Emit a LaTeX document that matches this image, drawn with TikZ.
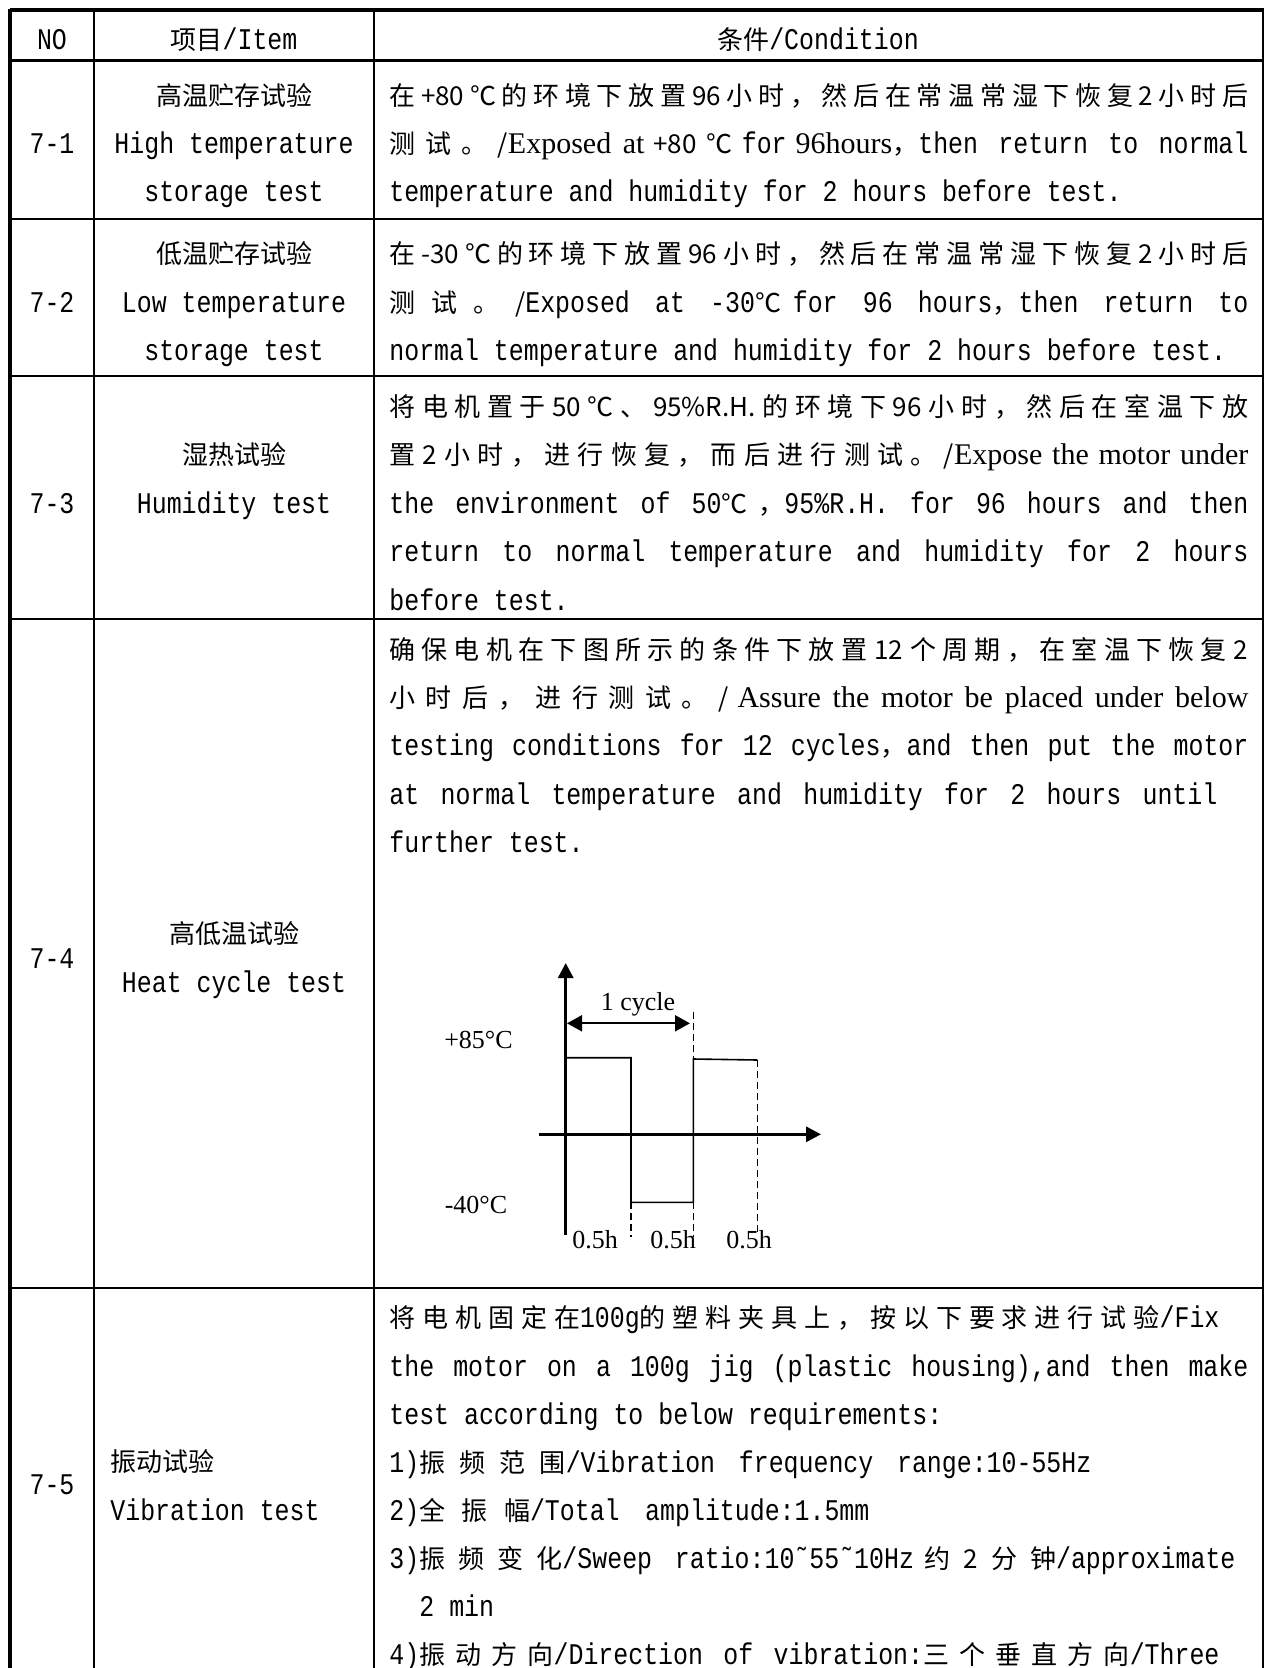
\documentclass[tikz,border=0pt]{standalone}
\usepackage{fontspec}
\usetikzlibrary{arrows.meta}

\setmainfont{Noto Sans CJK SC}
\newfontfamily\enfont[FakeStretch=0.83]{Liberation Mono}
\newfontfamily\tmfont{Liberation Serif}

% stretchable glue round the chinese characters (for justified lines)
\newskip\cjkskip
\cjkskip=0pt plus 3pt
\XeTeXinterchartokenstate=1
\newXeTeXintercharclass\cjkcls
\count255="3000
\loop
  \XeTeXcharclass\count255=\cjkcls
  \advance\count255 by 1
\ifnum\count255<"A000 \repeat
\count255="FF00
\loop
  \XeTeXcharclass\count255=\cjkcls
  \advance\count255 by 1
\ifnum\count255<"FFF0 \repeat
\XeTeXcharclass"2103=\cjkcls
\XeTeXinterchartoks\cjkcls\cjkcls={\hskip\cjkskip\relax}
\XeTeXinterchartoks 0 \cjkcls={\hskip\cjkskip\relax}
\XeTeXinterchartoks\cjkcls 0 ={\hskip\cjkskip\relax}

% latin text: narrow mono / times
\newcommand\en[1]{{\enfont\fontsize{15}{15}\selectfont\fontdimen3\font=2.5pt\fontdimen4\font=0.6pt #1}}
\newcommand\tm[1]{{\tmfont\fontsize{15}{15}\selectfont #1}}
% justified line of the condition column
\newcommand\jl[2][429.5pt]{\makebox[#1][s]{\cjkskip=1.8pt plus 3pt\relax #2}}

\begin{document}
\begin{tikzpicture}[x=0.5pt,y=-0.5pt,
    every node/.style={font=\fontsize{13}{13}\selectfont},
    cell/.style={inner sep=0pt,text height=10pt,text depth=0pt},
    txt/.style={cell,anchor=west},
    axis/.style={line width=1.5pt,-{Triangle[length=7.5pt,width=7.5pt]}},
    wave/.style={line width=0.8pt},
    guide/.style={line width=0.8pt,dash pattern=on 3.5pt off 2pt},
    lbl/.style={inner sep=0pt,font=\tmfont\fontsize{13}{13}\selectfont}]
                \useasboundingbox (0,0) rectangle (1263,1668);

                % table frame
                \draw[line width=2pt] (9.5,10) -- (1264,10);
                \draw[line width=2pt] (9.5,9) -- (9.5,1668);
                \draw[line width=2pt] (1264,9) -- (1264,1668);
                \draw[line width=1.5pt] (9.5,61) -- (1264,61);
                \draw[line width=1pt] (9.5,219) -- (1264,219);
                \draw[line width=1pt] (9.5,376) -- (1264,376);
                \draw[line width=1pt] (9.5,619) -- (1264,619);
                \draw[line width=1pt] (9.5,1288) -- (1264,1288);
                \draw[line width=1pt] (94,10) -- (94,1668);
                \draw[line width=1pt] (374,10) -- (374,1668);

                % header
                \node[cell] (hno) at (52,39.5) {\en{NO}};
                \node[cell] (hitem) at (234,39.5) {项目\en{/Item}};
                \node[cell] (hcond) at (818,39.5) {条件\en{/Condition}};

                % 7-1
                \node[cell] (no1) at (52,144) {\en{7-1}};
                \node[cell] (it1a) at (234,96) {高温贮存试验};
                \node[cell] (it1b) at (234,144) {\en{High temperature}};
                \node[cell] (it1c) at (234,192) {\en{storage test}};
                \node[txt] (co1a) at (389,96) {\jl{在+80℃的环境下放置96小时，然后在常温常湿下恢复2小时后}};
                \node[txt] (co1b) at (389,144) {\jl{测试。/\tm{Exposed at} +80℃ \en{for} \tm{96hours}，\en{then return to normal}}};
                \node[txt] (co1c) at (389,192) {\en{temperature and humidity for 2 hours before test.}};

                % 7-2
                \node[cell] (no2) at (52,303) {\en{7-2}};
                \node[cell] (it2a) at (234,254) {低温贮存试验};
                \node[cell] (it2b) at (234,303) {\en{Low temperature}};
                \node[cell] (it2c) at (234,351) {\en{storage test}};
                \node[txt] (co2a) at (389,254) {\jl{在-30℃的环境下放置96小时，然后在常温常湿下恢复2小时后}};
                \node[txt] (co2b) at (389,303) {\jl{测试。/\en{Exposed at -30}℃ \en{for 96 hours}，\en{then return to}}};
                \node[txt] (co2c) at (389,351) {\en{normal temperature and humidity for 2 hours before test.}};

                % 7-3
                \node[cell] (no3) at (52,503) {\en{7-3}};
                \node[cell] (it3a) at (234,455) {湿热试验};
                \node[cell] (it3b) at (234,503) {\en{Humidity test}};
                \node[txt] (co3a) at (389,406.5) {\jl{将电机置于50℃、95\%R.H.的环境下96 小时，然后在室温下放}};
                \node[txt] (co3b) at (389,455) {\jl{置2 小时，进行恢复，而后进行测试。/\tm{Expose the motor under}}};
                \node[txt] (co3c) at (389,503) {\jl{\en{the environment of 50}℃，\en{95\%R.H. for 96 hours and then}}};
                \node[txt] (co3d) at (389,551) {\jl{\en{return to normal temperature and humidity for 2 hours}}};
                \node[txt] (co3e) at (389,600) {\en{before test.}};

                % 7-4
                \node[cell] (no4) at (52,958) {\en{7-4}};
                \node[cell] (it4a) at (234,933) {高低温试验};
                \node[cell] (it4b) at (234,982) {\en{Heat cycle test}};
                \node[txt] (co4a) at (389,649) {\jl{确保电机在下图所示的条件下放置 12 个周期，在室温下恢复 2}};
                \node[txt] (co4b) at (389,697) {\jl{小时后，进行测试。/ \tm{Assure the motor be placed under below}}};
                \node[txt] (co4c) at (389,745) {\jl{\en{testing conditions for 12 cycles}，\en{and then put the motor}}};
                \node[txt] (co4d) at (389,794) {\jl[414pt]{\en{at normal temperature and humidity for 2 hours until}}};
                \node[txt] (co4e) at (389,842) {\en{further test.}};

                % heat cycle chart
                \coordinate (yb) at (565.7,1235);
                \coordinate (yt) at (565.7,963);
                \coordinate (xl) at (539,1134.3);
                \coordinate (xr) at (821,1134.3);
                \draw[axis] (yb) -- (yt);
                \draw[axis] (xl) -- (xr);

                \draw[wave] (565.7,1057.7) -- (631,1057.7) -- (631,1202.3) -- (693.3,1202.3)
                        -- (693.3,1059) -- (757.3,1060);

                \draw[guide] (693.3,1011.7) -- (693.3,1059);
                \draw[guide] (631,1202.3) -- (631,1237);
                \draw[guide] (693.3,1202.3) -- (693.3,1237);
                \draw[guide] (757.3,1060) -- (757.3,1233);

                \coordinate (ca) at (567,1023.3);
                \coordinate (cb) at (690,1023.3);
                \draw[line width=1pt,{Triangle[length=7.5pt,width=8pt]}-{Triangle[length=7.5pt,width=8pt]}] (ca) -- (cb);

                \node[lbl] (cyc) at (638,1004) {1 cycle};
                \node[lbl] (hi) at (478.5,1040) {+85°C};
                \node[lbl] (lo) at (476,1205) {-40°C};
                \node[lbl] (t1) at (595,1240) {0.5h};
                \node[lbl] (t2) at (673,1240) {0.5h};
                \node[lbl] (t3) at (749,1240) {0.5h};

                % 7-5
                \node[cell] (no5) at (52,1484) {\en{7-5}};
                \node[txt] (it5a) at (110,1461) {振动试验};
                \node[txt] (it5b) at (110,1510) {\en{Vibration test}};
                \node[txt] (co5a) at (389,1317) {\jl[415pt]{将电机固定在\en{100g}的塑料夹具上，按以下要求进行试验\en{/Fix}}};
                \node[txt] (co5b) at (389,1366) {\jl{\en{the motor on a 100g jig (plastic housing),and then make}}};
                \node[txt] (co5c) at (389,1414) {\en{test according to below requirements:}};
                \node[txt] (co5d) at (389,1462) {\jl[351pt]{\en{1)}振频范围\en{/Vibration frequency range:10-55Hz}}};
                \node[txt] (co5e) at (389,1510) {\jl[240pt]{\en{2)}全振幅\en{/Total amplitude:1.5mm}}};
                \node[txt] (co5f) at (389,1558) {\jl[423pt]{\en{3)}振频变化\en{/Sweep ratio:10˜55˜10Hz} 约2分钟\en{/approximate}}};
                \node[txt] (co5g) at (419,1606) {\en{2 min}};
                \node[txt] (co5h) at (389,1654) {\jl[415pt]{\en{4)}振动方向\en{/Direction of vibration:}三个垂直方向\en{/Three}}};
            \end{tikzpicture}
\end{document}
